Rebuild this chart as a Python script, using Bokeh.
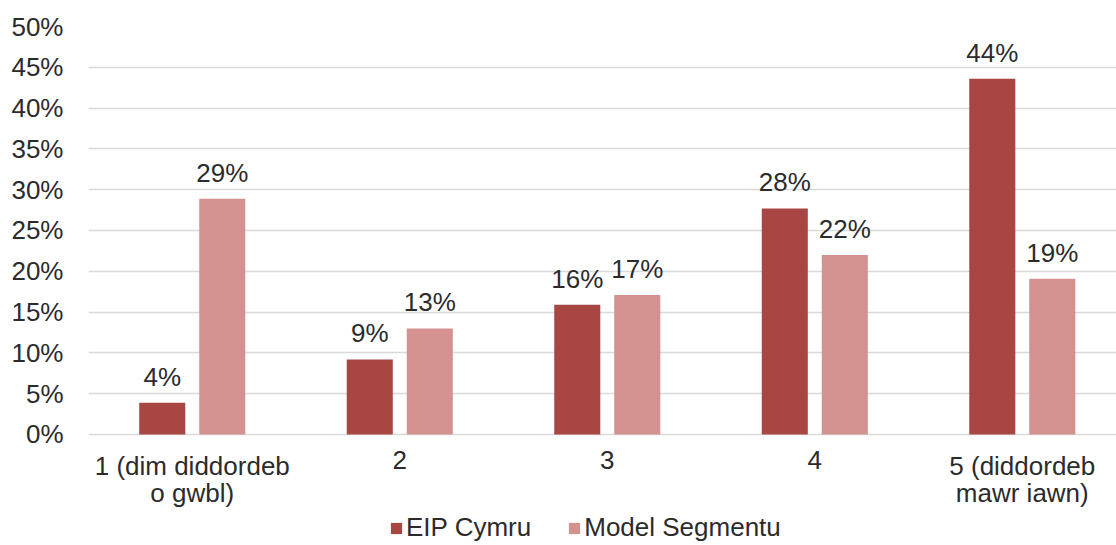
from bokeh.plotting import figure
from bokeh.models import ColumnDataSource, Legend, LegendItem, FixedTicker
from bokeh.core.properties import value
from bokeh.embed import file_html
from bokeh.resources import INLINE

categories = ["1 (dim diddordeb\no gwbl)", "2", "3", "4", "5 (diddordeb\nmawr iawn)"]
series_names = ["EIP Cymru", "Model Segmentu"]
eip_values = [3.9, 9.2, 15.9, 27.7, 43.6]
model_values = [28.9, 13.0, 17.1, 22.0, 19.1]
colors = ["#A84644", "#D39190"]
y_ticks = [0, 5, 10, 15, 20, 25, 30, 35, 40, 45, 50]

FONT = "Liberation Sans"
TXT = "#2b2b2b"
FS = "26px"

# frame covers the category-label and legend area below the zero line
p = figure(width=1116, height=545, output_backend="svg", toolbar_location=None,
           x_range=(0, 4.954), y_range=(-13.603, 50),
           min_border_left=88, min_border_right=0, min_border_top=26, min_border_bottom=0)
p.outline_line_color = None
p.background_fill_color = "white"
p.border_fill_color = "white"

xs = [i + 0.5 for i in range(len(categories))]
offset = 0.1446
bw = 0.222
renderers = []
for vals, col, sign in [(eip_values, colors[0], -1), (model_values, colors[1], 1)]:
    src = ColumnDataSource(dict(x=[x + sign * offset for x in xs], top=vals,
                                lab=["%d%%" % round(v) for v in vals]))
    r = p.vbar(x="x", top="top", width=bw, bottom=0, source=src, fill_color=col, line_color=None)
    renderers.append(r)
    p.text(x="x", y="top", text="lab", source=src, text_align="center", text_baseline="bottom",
           y_offset=-11, text_font=value(FONT), text_font_size=FS, text_color=TXT)

# category labels
cat_src = ColumnDataSource(dict(x=xs, y=[0] * len(xs), t=categories))
p.text(x="x", y="y", text="t", source=cat_src, text_align="center", text_baseline="top",
       y_offset=17, text_line_height=0.9, text_font=value(FONT), text_font_size=FS, text_color=TXT)

p.xaxis.visible = False
p.yaxis.ticker = FixedTicker(ticks=y_ticks)
p.yaxis.major_label_overrides = {t: "%d%%" % t for t in y_ticks}
ax = p.yaxis[0]
ax.axis_line_color = None
ax.major_tick_line_color = None
ax.minor_tick_line_color = None
ax.major_tick_out = 0
ax.minor_tick_out = 0
ax.major_label_text_font = FONT
ax.major_label_text_font_size = FS
ax.major_label_text_color = TXT
ax.major_label_standoff = 25

p.xgrid.grid_line_color = None
p.ygrid.grid_line_color = "#D9D9D9"
p.ygrid.grid_line_width = 1.5

legend = Legend(items=[LegendItem(label=series_names[i], renderers=[renderers[i]]) for i in range(2)],
                orientation="horizontal", location=(301, 2),
                label_text_font=FONT, label_text_font_size=FS, label_text_color=TXT,
                glyph_width=14, glyph_height=14, label_height=30, spacing=36, label_standoff=3,
                border_line_color=None, background_fill_alpha=0, margin=0, padding=0)
p.add_layout(legend, "center")

open("out.html", "w").write(file_html(p, INLINE))
